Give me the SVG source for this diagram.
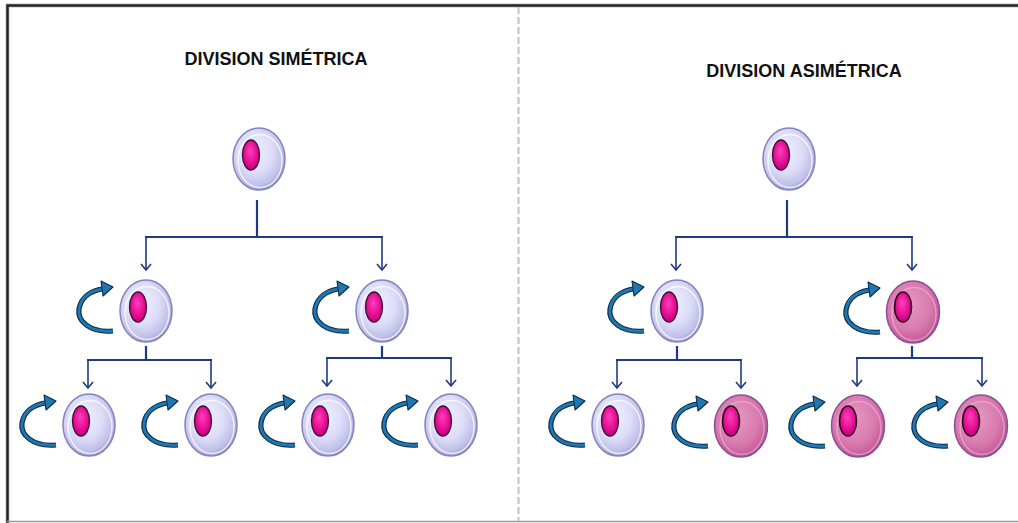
<svg xmlns="http://www.w3.org/2000/svg" xmlns:xlink="http://www.w3.org/1999/xlink" width="1018" height="523" viewBox="0 0 1018 523">
  <style>
    .title { font-family: "Liberation Sans", Arial, sans-serif; font-weight: bold; font-size: 18px; fill: #111111; text-anchor: middle; }
    .link { fill: none; stroke: #1F3A80; stroke-width: 2.2; }
    .drop { fill: none; stroke: #1F3A80; stroke-width: 1.6; marker-end: url(#chev); }
    .frame { fill: none; stroke: #222222; stroke-width: 2.5; }
    .frame-halo { fill: none; stroke: #BBBBBB; stroke-width: 5; }
  </style>
  <defs>
    <radialGradient id="gCell" cx="0.45" cy="0.42" r="0.6" fx="0.4" fy="0.35">
      <stop offset="0" stop-color="#F0F0FF"/>
      <stop offset="0.55" stop-color="#DDDDF8"/>
      <stop offset="0.85" stop-color="#C0C0EA"/>
      <stop offset="1" stop-color="#9494CC"/>
    </radialGradient>
    <radialGradient id="gPink" cx="0.45" cy="0.42" r="0.6" fx="0.4" fy="0.35">
      <stop offset="0" stop-color="#E69AC2"/>
      <stop offset="0.65" stop-color="#D97BB0"/>
      <stop offset="0.9" stop-color="#C8609C"/>
      <stop offset="1" stop-color="#A04A88"/>
    </radialGradient>
    <radialGradient id="gNuc" cx="0.5" cy="0.45" r="0.6" fx="0.45" fy="0.35">
      <stop offset="0" stop-color="#FF40BC"/>
      <stop offset="0.7" stop-color="#E0088E"/>
      <stop offset="1" stop-color="#B00070"/>
    </radialGradient>
    <marker id="chev" markerUnits="userSpaceOnUse" markerWidth="14" markerHeight="14" viewBox="-7 -7 14 14" refX="0" refY="0" orient="auto">
      <path d="M -6 -5 L 0 0 L -6 5" fill="none" stroke="#1F3A80" stroke-width="1.6"/>
    </marker>
    <!-- light stem cell -->
    <g id="cellA">
      <ellipse cx="0" cy="0" rx="26" ry="31" fill="url(#gCell)" stroke="#8484BE" stroke-width="1.5"/>
      <ellipse cx="1" cy="2" rx="22" ry="26.5" fill="none" stroke="#FFFFFF" stroke-opacity="0.75" stroke-width="1.5"/>
      <ellipse cx="-8" cy="-4" rx="8.5" ry="15" fill="url(#gNuc)" stroke="#3A1030" stroke-width="1.3"/>
    </g>
    <!-- differentiated (pink) cell -->
    <g id="cellB">
      <ellipse cx="0" cy="0" rx="26.5" ry="31" fill="url(#gPink)" stroke="#8C5098" stroke-width="1.5"/>
      <ellipse cx="1" cy="2" rx="22" ry="26.5" fill="none" stroke="#F2B8D8" stroke-opacity="0.6" stroke-width="1.5"/>
      <ellipse cx="-10" cy="-5" rx="8.5" ry="15" fill="url(#gNuc)" stroke="#2A0A20" stroke-width="1.6"/>
    </g>
    <!-- self-renewal arrow drawn to the left of a cell -->
    <g id="renew">
      <path d="M -33 20 C -56 22 -69 10 -67 -2 C -65 -14 -55 -20 -44 -22" fill="none" stroke="#0E2A45" stroke-width="5.2"/>
      <path d="M -33 20 C -56 22 -69 10 -67 -2 C -65 -14 -55 -20 -44 -22" fill="none" stroke="#1E78B4" stroke-width="2.8"/>
      <polygon points="-45,-30 -33,-24 -43,-15" fill="#1E78B4" stroke="#0E2A45" stroke-width="1.1" stroke-linejoin="round"/>
    </g>
  </defs>

  <rect x="0" y="0" width="1018" height="523" fill="#FFFFFF"/>

  <!-- frame -->
  <g id="frame">
    <path class="frame-halo" d="M 7.5 523 L 7.5 5.5 L 1018 5.5" stroke-opacity="0.5"/>
    <path class="frame" d="M 7.5 523 L 7.5 5.5 L 1018 5.5"/>
    <line x1="7" y1="521.5" x2="1018" y2="521.5" stroke="#9A9A9A" stroke-width="1.5"/>
    <line x1="518.5" y1="7" x2="518.5" y2="521" stroke="#C2C2C2" stroke-width="2" stroke-dasharray="7 3"/>
  </g>

  <!-- titles -->
  <text id="title-sym" class="title" x="276" y="65">DIVISION SIMÉTRICA</text>
  <text id="title-asym" class="title" x="804" y="77">DIVISION ASIMÉTRICA</text>

  <!-- connectors -->
  <g id="connectors">
    <!-- symmetric -->
    <path class="link" d="M 257 200 V 237 M 145 237 H 383"/>
    <path class="drop" d="M 146 237 V 270"/>
    <path class="drop" d="M 382 237 V 270"/>
    <path class="link" d="M 146 346 V 360 M 87 360 H 212"/>
    <path class="drop" d="M 88 360 V 388"/>
    <path class="drop" d="M 211 360 V 388"/>
    <path class="link" d="M 382 346 V 358 M 326 358 H 452"/>
    <path class="drop" d="M 327 358 V 386"/>
    <path class="drop" d="M 451 358 V 386"/>
    <!-- asymmetric -->
    <path class="link" d="M 787 200 V 237 M 675 237 H 913"/>
    <path class="drop" d="M 676 237 V 270"/>
    <path class="drop" d="M 912 237 V 270"/>
    <path class="link" d="M 677 346 V 360 M 616 360 H 742"/>
    <path class="drop" d="M 617 360 V 388"/>
    <path class="drop" d="M 741 360 V 388"/>
    <path class="link" d="M 912 346 V 358 M 856 358 H 983"/>
    <path class="drop" d="M 857 358 V 386"/>
    <path class="drop" d="M 982 358 V 386"/>
  </g>

  <!-- symmetric division -->
  <g id="s-root"><use xlink:href="#cellA" x="259" y="159"/></g>
  <g id="s-l"><use xlink:href="#renew" x="146" y="311"/><use xlink:href="#cellA" x="146" y="311"/></g>
  <g id="s-r"><use xlink:href="#renew" x="382" y="311"/><use xlink:href="#cellA" x="382" y="311"/></g>
  <g id="s-ll"><use xlink:href="#renew" x="89" y="425"/><use xlink:href="#cellA" x="89" y="425"/></g>
  <g id="s-lr"><use xlink:href="#renew" x="211" y="425"/><use xlink:href="#cellA" x="211" y="425"/></g>
  <g id="s-rl"><use xlink:href="#renew" x="328" y="425"/><use xlink:href="#cellA" x="328" y="425"/></g>
  <g id="s-rr"><use xlink:href="#renew" x="451" y="425"/><use xlink:href="#cellA" x="451" y="425"/></g>

  <!-- asymmetric division -->
  <g id="a-root"><use xlink:href="#cellA" x="789" y="159"/></g>
  <g id="a-l"><use xlink:href="#renew" x="677" y="311"/><use xlink:href="#cellA" x="677" y="311"/></g>
  <g id="a-r"><use xlink:href="#renew" x="913" y="312"/><use xlink:href="#cellB" x="913" y="312"/></g>
  <g id="a-ll"><use xlink:href="#renew" x="618" y="425"/><use xlink:href="#cellA" x="618" y="425"/></g>
  <g id="a-lr"><use xlink:href="#renew" x="741" y="426"/><use xlink:href="#cellB" x="741" y="426"/></g>
  <g id="a-rl"><use xlink:href="#renew" x="858" y="426"/><use xlink:href="#cellB" x="858" y="426"/></g>
  <g id="a-rr"><use xlink:href="#renew" x="981" y="426"/><use xlink:href="#cellB" x="981" y="426"/></g>
</svg>
